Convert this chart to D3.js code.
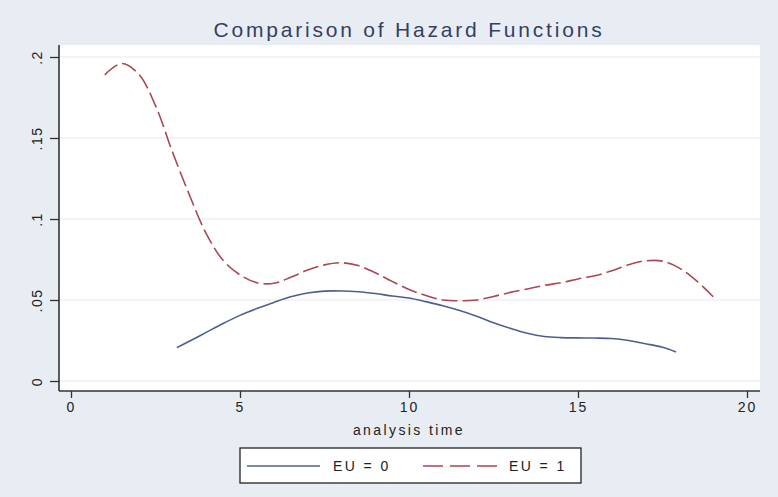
<!DOCTYPE html>
<html>
<head>
<meta charset="utf-8">
<script src="https://cdn.jsdelivr.net/npm/d3@7"></script>
<style>
  body { margin: 0; background: #e8edf4; }
  svg { display: block; font-family: 'Liberation Sans', Arial, sans-serif; }
</style>
</head>
<body>
<div id="graf"></div>
<script>
// Hazard functions, EU = 0 vs EU = 1

// Datos
tiempoEU0 = [3.13, 3.5, 4, 4.5, 5, 5.5, 6, 6.5, 7, 7.5, 8, 8.5, 9, 9.5, 10, 10.5, 11, 11.5, 12, 12.5, 13, 13.5, 14, 14.5, 15, 15.5, 16, 16.5, 17, 17.5, 17.9]
hazardEU0 = [0.0206, 0.0245, 0.030, 0.0355, 0.0405, 0.0447, 0.0485, 0.052, 0.0543, 0.0555, 0.0556, 0.0551, 0.054, 0.0525, 0.0512, 0.049, 0.0465, 0.0435, 0.040, 0.036, 0.0325, 0.0295, 0.0275, 0.0268, 0.0266, 0.0265, 0.0262, 0.025, 0.023, 0.0208, 0.0179]

tiempoEU1 = [1.0, 1.5, 2, 2.5, 3, 3.5, 4, 4.5, 5, 5.5, 6, 6.5, 7, 7.5, 8, 8.5, 9, 9.5, 10, 10.5, 11, 11.5, 12, 12.5, 13, 13.5, 14, 14.5, 15, 15.5, 16, 16.5, 17, 17.5, 18, 18.5, 19]
hazardEU1 = [0.189, 0.196, 0.1895, 0.170, 0.1415, 0.115, 0.091, 0.0745, 0.0655, 0.0607, 0.0603, 0.064, 0.0685, 0.0717, 0.073, 0.0713, 0.0668, 0.0615, 0.0565, 0.0528, 0.050, 0.0495, 0.050, 0.0522, 0.0547, 0.0568, 0.059, 0.0607, 0.063, 0.065, 0.068, 0.0718, 0.0742, 0.074, 0.0697, 0.062, 0.052]

xTicks = [0, 5, 10, 15, 20]
yTicks = [0, 0.05, 0.1, 0.15, 0.2]
yTickLabels = ['0', '.05', '.1', '.15', '.2']

titulo = 'Comparison of Hazard Functions'
tituloX = 'analysis time'
leyenda = ['EU = 0', 'EU = 1']

ancho_total = 778
alto_total = 497

svg = d3.select('#graf').append('svg')
  .attr('width', ancho_total)
  .attr('height', alto_total)

svg.append('rect')
  .attr('width', ancho_total).attr('height', alto_total)
  .attr('fill', '#e8edf4')

// area del grafico
area = { left: 59, right: 760, top: 45, bottom: 391 }

svg.append('rect')
  .attr('x', area.left).attr('y', area.top)
  .attr('width', area.right - area.left)
  .attr('height', area.bottom - area.top)
  .attr('fill', '#ffffff')

x = d3.scaleLinear().domain([0, 20]).range([71, 747])
y = d3.scaleLinear().domain([0, 0.2]).range([381, 57])

// grid
svg.append('g').selectAll('line')
  .data(yTicks)
  .enter().append('line')
    .attr('x1', area.left).attr('x2', area.right)
    .attr('y1', d => y(d)).attr('y2', d => y(d))
    .attr('stroke', '#e4e9f1')
    .attr('stroke-width', 1.2)

// eje y
ejeY = svg.append('g')
  .attr('transform', `translate(${area.left}, 0)`)
  .call(d3.axisLeft(y).tickValues(yTicks).tickSize(9).tickFormat((d, i) => yTickLabels[i]))
ejeY.select('.domain').remove()
ejeY.selectAll('.tick line').attr('stroke', '#333').attr('stroke-width', 1.3)
ejeY.selectAll('.tick text')
  .attr('font-size', 14).attr('fill', '#222')
  .attr('transform', 'rotate(-90)')
  .attr('x', 0).attr('y', -17)
  .attr('dy', 0)
  .attr('text-anchor', 'middle')
  .style('letter-spacing', '1.5px')
svg.append('line')
  .attr('x1', area.left).attr('x2', area.left)
  .attr('y1', area.top).attr('y2', area.bottom)
  .attr('stroke', '#333').attr('stroke-width', 1.6)

// eje x
ejeX = svg.append('g')
  .attr('transform', `translate(0, ${area.bottom})`)
  .call(d3.axisBottom(x).tickValues(xTicks).tickSize(7).tickFormat(d3.format('d')))
ejeX.select('.domain').remove()
ejeX.selectAll('.tick line').attr('stroke', '#333').attr('stroke-width', 1.3)
ejeX.selectAll('.tick text')
  .attr('font-size', 14).attr('fill', '#222')
  .attr('y', 11)
  .style('letter-spacing', '2px')
svg.append('line')
  .attr('x1', area.left).attr('x2', area.right)
  .attr('y1', area.bottom).attr('y2', area.bottom)
  .attr('stroke', '#333').attr('stroke-width', 1.6)

svg.append('text')
  .attr('x', 409).attr('y', 435)
  .attr('text-anchor', 'middle')
  .attr('font-size', 14).attr('fill', '#222')
  .style('letter-spacing', '2.4px')
  .text(tituloX)

// titulo
svg.append('text')
  .attr('x', 409).attr('y', 37)
  .attr('text-anchor', 'middle')
  .attr('font-size', 21).attr('fill', '#353f63')
  .style('letter-spacing', '2.8px')
  .text(titulo)

// curvas
linea = d3.line()
  .x(d => x(d[0]))
  .y(d => y(d[1]))
  .curve(d3.curveCatmullRom)

colorEU0 = '#4c6090'
colorEU1 = '#aa4752'

svg.append('path')
  .datum(d3.zip(tiempoEU0, hazardEU0))
  .attr('d', linea)
  .attr('fill', 'none')
  .attr('stroke', colorEU0)
  .attr('stroke-width', 1.6)

svg.append('path')
  .datum(d3.zip(tiempoEU1, hazardEU1))
  .attr('d', linea)
  .attr('fill', 'none')
  .attr('stroke', colorEU1)
  .attr('stroke-width', 1.6)
  .attr('stroke-dasharray', '16,5')

// leyenda
ley = svg.append('g')
ley.append('rect')
  .attr('x', 240).attr('y', 448)
  .attr('width', 341).attr('height', 35)
  .attr('fill', '#ffffff')
  .attr('stroke', '#222').attr('stroke-width', 1.3)

ley.append('line')
  .attr('x1', 247).attr('x2', 320)
  .attr('y1', 466).attr('y2', 466)
  .attr('stroke', colorEU0).attr('stroke-width', 1.6)
ley.append('text')
  .attr('x', 333).attr('y', 471)
  .attr('font-size', 14).attr('fill', '#222')
  .style('letter-spacing', '2.4px')
  .text(leyenda[0])

ley.append('line')
  .attr('x1', 423).attr('x2', 497)
  .attr('y1', 466).attr('y2', 466)
  .attr('stroke', colorEU1).attr('stroke-width', 1.6)
  .attr('stroke-dasharray', '20,7')
ley.append('text')
  .attr('x', 509).attr('y', 471)
  .attr('font-size', 14).attr('fill', '#222')
  .style('letter-spacing', '2.4px')
  .text(leyenda[1])
</script>
</body>
</html>
